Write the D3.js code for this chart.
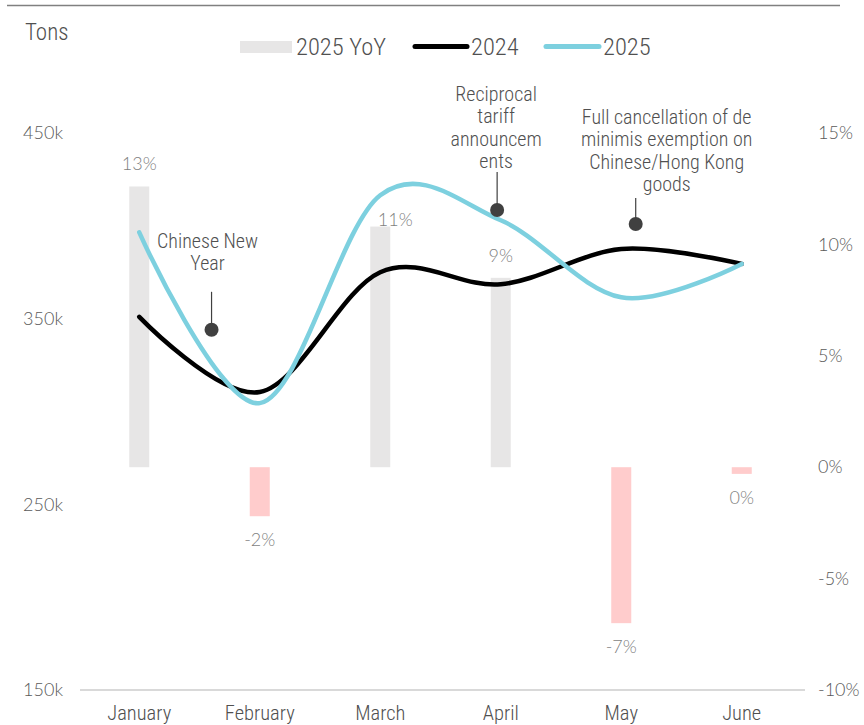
<!DOCTYPE html>
<html>
<head>
<meta charset="utf-8">
<script src="https://cdn.jsdelivr.net/npm/d3@7"></script>
<style>
  html, body { margin: 0; padding: 0; background: #fff; }
  svg { display: block; }
  .cond { font-family: "Roboto Condensed", "Liberation Sans Narrow", "Roboto", sans-serif; font-weight: 300; }
  .geo { font-family: "Lato", "Open Sans", sans-serif; font-weight: 300; }
</style>
</head>
<body>
<svg id="chart" width="864" height="725"></svg>
<script>
// ---- data ----
const months = ["January", "February", "March", "April", "May", "June"];
const tons2024 = [351, 310.5, 375, 368.5, 387.5, 379.5];
const tons2025 = [396.5, 304.5, 416.5, 403, 361.5, 379.5];
const yoy2025 = [12.6, -2.2, 10.8, 8.5, -7.0, -0.3];
const leftTicks = [150, 250, 350, 450];
const rightTicks = [-10, -5, 0, 5, 10, 15];
const legendLabels = ["2025 YoY", "2024", "2025"];
const noteLines = [
  ["Chinese New", "Year"],
  ["Reciprocal", "tariff", "announcem", "ents"],
  ["Full cancellation of de", "minimis exemption on", "Chinese/Hong Kong", "goods"]
];
const noteMonth = ["January", "April", "May"];
const noteShift = [0.6, -0.03, 0.12];   // fraction of a month step past the month
const noteValue = [344, 408.5, 401];    // tons (k)

(function () {
// ---- setup ----
const svg = d3.select("#chart");
const pL = 79, pR = 802, pT = 133, pB = 690;
const textCol = "#505050";

const x = d3.scaleBand().domain(months).range([pL, pR]);
const cx = m => x(m) + x.bandwidth() / 2;
const yL = d3.scaleLinear().domain([150, 450]).range([pB, pT]);
const yR = d3.scaleLinear().domain([-10, 15]).range([pB, pT]);

const pct = v => (Math.round(v) === 0 ? "0" : String(Math.round(v))) + "%";

// top rule
svg.append("line").attr("x1", 7).attr("x2", 840).attr("y1", 5.5).attr("y2", 5.5)
  .attr("stroke", "#808080").attr("stroke-width", 1.5);

// baseline
svg.append("line").attr("x1", 80).attr("x2", 805).attr("y1", pB).attr("y2", pB)
  .attr("stroke", "#d9d9d9").attr("stroke-width", 2);

// unit label
svg.append("text").attr("class", "cond").attr("x", 25).attr("y", 40)
  .attr("font-size", 23).attr("fill", textCol).text("Tons");

// left axis
const axL = svg.append("g").attr("transform", `translate(63,0)`)
  .call(d3.axisLeft(yL).tickValues(leftTicks).tickSize(0).tickPadding(0).tickFormat(d => d + "k"));
axL.select(".domain").remove();
axL.selectAll("text").attr("class", "geo").attr("font-size", 18).attr("fill", "#595959");

// right axis
const axR = svg.append("g").attr("transform", `translate(818,0)`)
  .call(d3.axisRight(yR).tickValues(rightTicks).tickSize(0).tickPadding(0).tickFormat(d => String(d) + "%"));
axR.select(".domain").remove();
axR.selectAll("text").attr("class", "geo").attr("font-size", 18).attr("fill", "#595959");

// x axis
const axX = svg.append("g").attr("transform", `translate(0,${pB})`)
  .call(d3.axisBottom(x).tickSize(0).tickPadding(15));
axX.select(".domain").remove();
axX.selectAll("text").attr("class", "cond").attr("font-size", 20.5).attr("fill", textCol);

// bars
const barW = 20;
const bars = months.map((m, i) => ({ m, v: yoy2025[i] }));
svg.append("g").selectAll("rect").data(bars).join("rect")
  .attr("x", d => cx(d.m) - barW / 2)
  .attr("y", d => yR(Math.max(0, d.v)))
  .attr("width", barW)
  .attr("height", d => Math.abs(yR(d.v) - yR(0)))
  .attr("fill", d => d.v >= 0 ? "#e7e6e6" : "#ffcccc");

// bar labels
const labelNudge = { "March": [15, 15] };
svg.append("g").selectAll("text").data(bars).join("text")
  .attr("class", "geo")
  .attr("text-anchor", "middle")
  .attr("font-size", 18)
  .attr("fill", "#7f7f7f")
  .attr("x", d => cx(d.m) + (labelNudge[d.m] ? labelNudge[d.m][0] : 0))
  .attr("y", d => (d.v >= 0 ? yR(d.v) - 16 : yR(d.v) + 30) + (labelNudge[d.m] ? labelNudge[d.m][1] : 0))
  .text(d => pct(d.v));

// lines
const line = d3.line().x((d, i) => cx(months[i])).y(d => yL(d)).curve(d3.curveCardinal.tension(0));
svg.append("path").attr("d", line(tons2024)).attr("fill", "none")
  .attr("stroke", "#000").attr("stroke-width", 4.5).attr("stroke-linecap", "round");
svg.append("path").attr("d", line(tons2025)).attr("fill", "none")
  .attr("stroke", "#7dd0df").attr("stroke-width", 4.5).attr("stroke-linecap", "round");

// annotations
const step = x.step();
const textDx = [-4, -1, 31];
const leader = [38, 38, 26];
const firstBaseline = [-82, -109, -100];
noteLines.forEach((lines, k) => {
  const px = cx(noteMonth[k]) + noteShift[k] * step;
  const py = yL(noteValue[k]);
  const g = svg.append("g");
  g.append("line").attr("x1", px).attr("x2", px).attr("y1", py - leader[k]).attr("y2", py)
    .attr("stroke", "#404040").attr("stroke-width", 1.2);
  g.append("circle").attr("cx", px).attr("cy", py).attr("r", 7).attr("fill", "#404040");
  const t = g.append("text").attr("class", "cond").attr("text-anchor", "middle")
    .attr("font-size", 20).attr("fill", textCol);
  lines.forEach((s, j) => {
    t.append("tspan").attr("x", px + textDx[k]).attr("y", py + firstBaseline[k] + j * 22.3).text(s);
  });
});

// legend
const lg = svg.append("g");
lg.append("rect").attr("x", 240).attr("y", 41).attr("width", 52).attr("height", 12).attr("fill", "#e7e6e6");
lg.append("text").attr("class", "cond").attr("x", 296).attr("y", 55).attr("font-size", 24.5).attr("fill", textCol).text(legendLabels[0]);
lg.append("line").attr("x1", 415).attr("x2", 467).attr("y1", 46.5).attr("y2", 46.5)
  .attr("stroke", "#000").attr("stroke-width", 5).attr("stroke-linecap", "round");
lg.append("text").attr("class", "cond").attr("x", 471).attr("y", 55).attr("font-size", 24.5).attr("fill", textCol).text(legendLabels[1]);
lg.append("line").attr("x1", 546).attr("x2", 599).attr("y1", 46.5).attr("y2", 46.5)
  .attr("stroke", "#7dd0df").attr("stroke-width", 5).attr("stroke-linecap", "round");
lg.append("text").attr("class", "cond").attr("x", 603).attr("y", 55).attr("font-size", 24.5).attr("fill", textCol).text(legendLabels[2]);
})();
</script>
</body>
</html>
